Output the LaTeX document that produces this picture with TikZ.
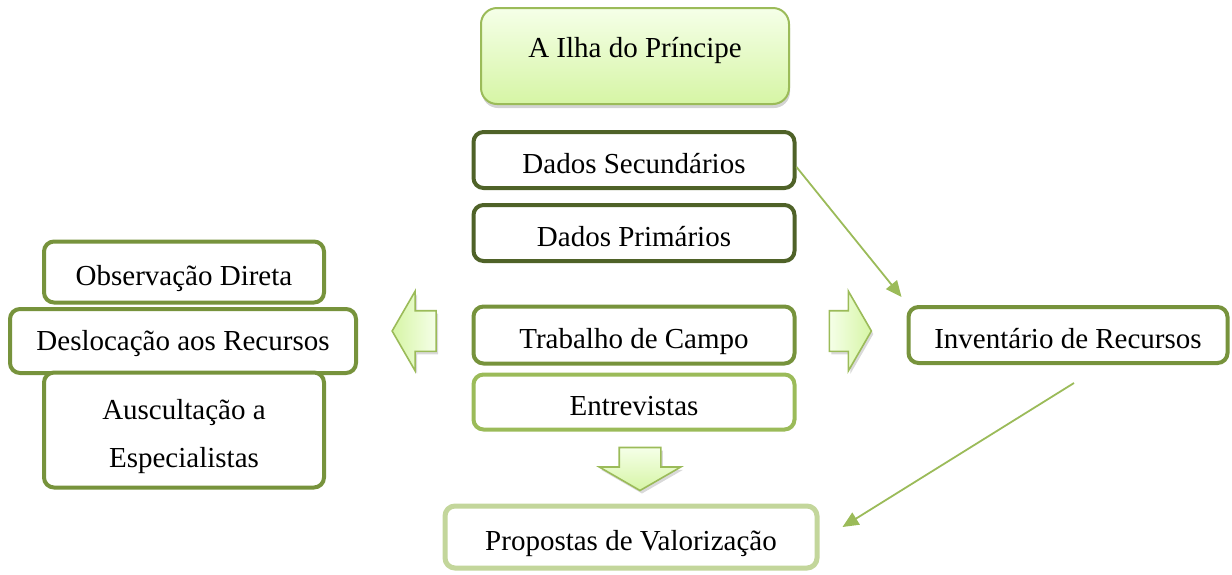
\documentclass[tikz,border=0pt]{standalone}
\usepackage{fontspec}
\setmainfont{Liberation Serif}
\usepackage{tikz}
\usetikzlibrary{arrows.meta,shapes.arrows,shadows}
\definecolor{verdeescuro}{HTML}{4F6228}
\definecolor{verde}{HTML}{77933C}
\definecolor{verdeclaro}{HTML}{9BBB59}
\definecolor{verdepalido}{HTML}{C3D69B}
\definecolor{limao}{RGB}{214,245,165}
\definecolor{limaoclaro}{RGB}{245,255,232}
\tikzstyle{caixa} = [rectangle, rounded corners=5pt, line width=2pt, fill=white, text centered, text height=16pt, text depth=3pt, draw=verde, font=\fontsize{14.5}{17}\selectfont]
\tikzstyle{seta} = [single arrow, inner sep=0pt, draw=verdeclaro, line width=0.8pt, single arrow tip angle=120, drop shadow={shadow xshift=1pt, shadow yshift=-1.5pt, opacity=0.3}]
\tikzstyle{ligacao} = [-{Triangle[length=8pt,width=7pt]}, verdeclaro, line width=0.9pt]

\begin{document}
\begin{tikzpicture}[x=0.5pt,y=-0.5pt]
        \useasboundingbox (0,0) rectangle (1232,574);
        \node[caixa, draw=verdeclaro, line width=1pt, rounded corners=8pt, text height=9pt, text depth=8pt, top color=limaoclaro, bottom color=limao, minimum width=154pt, minimum height=48pt, drop shadow={shadow xshift=0.5pt, shadow yshift=-2pt, opacity=0.35}] (A) at (635,56) {A Ilha do Príncipe};
        \node[caixa, draw=verdeescuro, minimum width=160.5pt, minimum height=28pt] (B) at (634,160) {Dados Secundários};
        \node[caixa, draw=verdeescuro, minimum width=160.5pt, minimum height=28pt] (C) at (634,233) {Dados Primários};
        \node[caixa, minimum width=160.5pt, minimum height=28.5pt] (D) at (634,335) {Trabalho de Campo};
        \node[caixa, draw=verdeclaro, minimum width=160.5pt, minimum height=27.5pt] (E) at (634,402) {Entrevistas};
        \node[caixa, draw=verdepalido, line width=2.5pt, minimum width=186pt, minimum height=31pt] (F) at (631,537) {Propostas de Valorização};
        \node[caixa, minimum width=140pt, minimum height=30.5pt] (G) at (184,272) {Observação Direta};
        \node[caixa, text height=12pt, minimum width=173pt, minimum height=32pt] (H) at (183,341) {Deslocação aos Recursos};
        \node[caixa, align=center, text height=40pt, text depth=3pt, minimum width=140pt, minimum height=57.5pt] (I) at (184,430) {Auscultação a\\[7pt]Especialistas};
        \node[caixa, minimum width=159.5pt, minimum height=28pt] (J) at (1068,335) {Inventário de Recursos};
        \node[seta, shape border rotate=180, left color=limao, right color=limaoclaro, inner ysep=9.75pt, minimum height=22pt, single arrow head extend=9.75pt] (K) at (420,331) {};
        \node[seta, left color=limaoclaro, right color=limao, inner ysep=9.75pt, minimum height=21pt, single arrow head extend=9.75pt] (L) at (844.5,331) {};
        \node[seta, shape border rotate=270, top color=limaoclaro, bottom color=limao, inner xsep=10pt, minimum height=21.5pt, single arrow head extend=10pt] (M) at (640,463) {};
        \coordinate (P) at ([xshift=3pt,yshift=-9pt]J.south);
    \begin{scope}[ligacao]
        \draw ([yshift=-3.5pt]B.east) -- ([xshift=-2.5pt,yshift=4pt]J.north west);
        \draw (P) -- ([xshift=11.5pt,yshift=5pt]F.east);
    \end{scope}
    \end{tikzpicture}
\end{document}
